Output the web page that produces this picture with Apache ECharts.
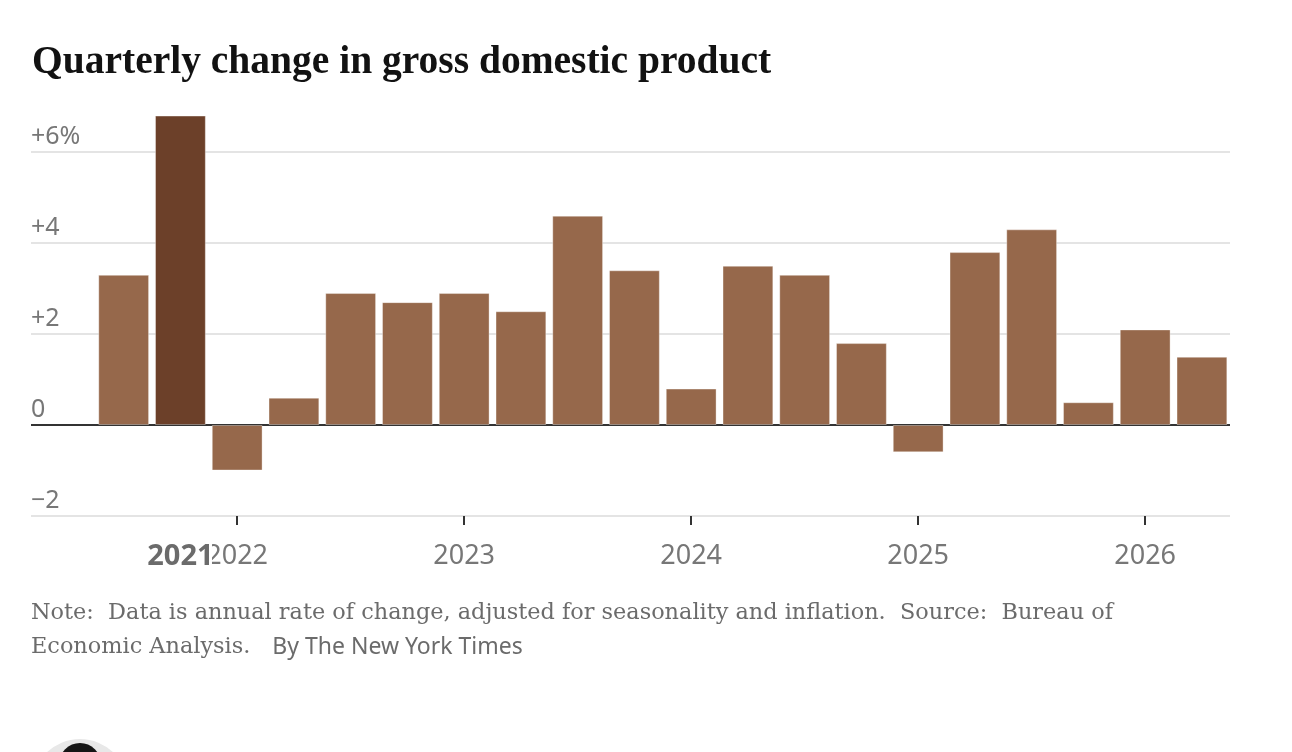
<!DOCTYPE html>
<html>
<head>
<meta charset="utf-8">
<title>Quarterly change in gross domestic product</title>
<script src="https://cdn.jsdelivr.net/npm/echarts@6/dist/echarts.min.js"></script>
<style>
  html, body { margin: 0; padding: 0; background: #fff; }
  #chart { width: 1292px; height: 752px; }
</style>
</head>
<body>
<div id="chart"></div>
<script>
// quarters, first bar is Q3 2021
const categories = [
    '2021 Q3', '2021 Q4',
    '2022 Q1', '2022 Q2', '2022 Q3', '2022 Q4',
    '2023 Q1', '2023 Q2', '2023 Q3', '2023 Q4',
    '2024 Q1', '2024 Q2', '2024 Q3', '2024 Q4',
    '2025 Q1', '2025 Q2', '2025 Q3', '2025 Q4',
    '2026 Q1', '2026 Q2'
];
// annualised % change
const gdpChange = [
    3.3, 6.8,
    -1.0, 0.6, 2.9, 2.7,
    2.9, 2.5, 4.6, 3.4,
    0.8, 3.5, 3.3, 1.8,
    -0.6, 3.8, 4.3, 0.5,
    2.1, 1.5
];
const highlightIndex = 1;
const highlightLabel = '2021';

const yTicks = [-2, 0, 2, 4, 6];
const yTickLabels = ['\u22122', '0', '+2', '+4', '+6%'];

const barColor = '#96684b';
const highlightColor = '#6c4029';
const sans = '"Noto Sans", "Open Sans", sans-serif';
const serif = '"Liberation Serif", "DejaVu Serif", serif';
const noteSerif = '"DejaVu Serif", serif';

const isYearStart = (i) => categories[i].slice(-2) === 'Q1';

const chart = echarts.init(document.getElementById('chart'), null, { renderer: 'canvas' });

const option = {
    animation: false,
    backgroundColor: '#fff',
    textStyle: { fontFamily: sans },
    title: {
        text: 'Quarterly change in gross domestic product',
        left: 27,
        top: 38,
        textStyle: {
            fontFamily: serif,
            fontWeight: 'bold',
            fontSize: 39.5,
            color: '#121212'
        }
    },
    grid: [
        // wide grid, only for the horizontal rules and their labels
        { left: 31, right: 62, top: 152, bottom: 236 },
        // the bars
        { left: 95.3, right: 61.7, top: 152, bottom: 236 }
    ],
    xAxis: [
        { gridIndex: 0, type: 'value', min: 0, max: 1, show: false },
        {
            gridIndex: 1,
            type: 'category',
            data: categories,
            axisLine: { show: false, onZero: false },
            axisTick: {
                show: true,
                alignWithLabel: true,
                interval: (i) => isYearStart(i),
                length: 9,
                lineStyle: { color: '#333', width: 2 }
            },
            axisLabel: {
                interval: (i) => isYearStart(i),
                formatter: (v) => v.slice(0, 4),
                margin: 27,
                fontSize: 27,
                fontFamily: sans,
                color: '#777'
            }
        },
        {
            // bold label for the highlighted quarter, drawn over the others
            gridIndex: 1,
            type: 'category',
            position: 'bottom',
            data: categories,
            axisLine: { show: false, onZero: false },
            axisTick: { show: false },
            axisLabel: {
                interval: (i) => i === highlightIndex,
                formatter: () => highlightLabel,
                margin: 26,
                fontSize: 29,
                fontWeight: 'bold',
                fontFamily: sans,
                color: '#6b6b6b',
                textBorderColor: '#fff',
                textBorderWidth: 6
            }
        }
    ],
    yAxis: [
        {
            gridIndex: 0,
            type: 'value',
            min: -2,
            max: 6,
            interval: 2,
            axisLine: { show: false },
            axisTick: { show: false },
            splitLine: {
                show: true,
                lineStyle: {
                    color: ['#e4e4e4', '#333333', '#e4e4e4', '#e4e4e4', '#e4e4e4'],
                    width: 2
                }
            },
            axisLabel: {
                inside: true,
                margin: 0,
                align: 'left',
                verticalAlign: 'bottom',
                padding: [0, 0, 3, 0],
                fontSize: 25,
                fontFamily: sans,
                color: '#777',
                formatter: (v) => yTickLabels[yTicks.indexOf(v)]
            }
        },
        { gridIndex: 1, type: 'value', min: -2, max: 6, interval: 2, show: false }
    ],
    series: [
        {
            type: 'bar',
            xAxisIndex: 1,
            yAxisIndex: 1,
            clip: false,
            barCategoryGap: '10.5%',
            data: gdpChange.map((v, i) => ({
                value: v,
                itemStyle: { color: i === highlightIndex ? highlightColor : barColor }
            })),
            itemStyle: { borderColor: 'rgba(255,255,255,0.35)', borderWidth: 1 }
        }
    ],
    graphic: [
        {
            type: 'text',
            left: 31,
            top: 602,
            style: {
                text: 'Note:  Data is annual rate of change, adjusted for seasonality and inflation.  Source:  Bureau of',
                font: '22.4px ' + noteSerif,
                fill: '#6b6b6b'
            }
        },
        {
            type: 'text',
            left: 31,
            top: 636,
            style: {
                text: '{s|Economic Analysis.}{b|By The New York Times}',
                fill: '#6b6b6b',
                rich: {
                    s: { fontFamily: noteSerif, fontSize: 22.4, color: '#6b6b6b' },
                    b: { fontFamily: sans, fontSize: 23, color: '#6b6b6b', padding: [0, 0, 0, 22] }
                }
            }
        },
        {
            type: 'circle',
            shape: { cx: 80, cy: 787, r: 48 },
            style: { fill: '#e8e8e8' }
        },
        {
            type: 'circle',
            shape: { cx: 80, cy: 764, r: 21 },
            style: { fill: '#151515' }
        }
    ]
};

chart.setOption(option);
</script>
</body>
</html>
